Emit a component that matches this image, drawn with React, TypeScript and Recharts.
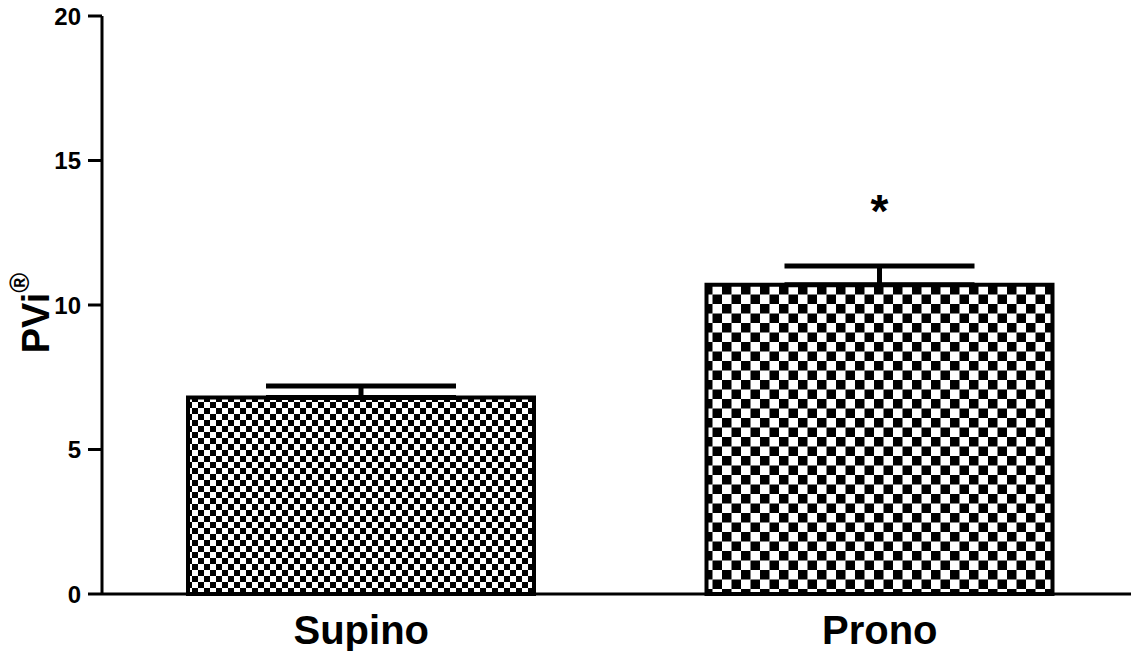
import { BarChart, Bar, XAxis, YAxis, ErrorBar, Cell, LabelList } from "recharts";

const groups = ["Supino", "Prono"];
const means = [6.8, 10.7];
const sem = [0.4, 0.65];
const marks = ["", "*"];
const yTicks = [0, 5, 10, 15, 20];

const patterns = ["url(#checkFine)", "url(#checkCoarse)"];

const data = groups.map((name, i) => ({
	name,
	value: means[i],
	err: [0, sem[i]],
	mark: marks[i],
}));

const font = "'Liberation Sans', Arial, sans-serif";

function YLabel({ viewBox }: any) {
	const cx = 36;
	const cy = viewBox.y + viewBox.height / 2 + 8;
	return (
		<text
			transform={`translate(${cx},${cy}) rotate(-90)`}
			textAnchor="middle"
			fontFamily={font}
			fontWeight="bold"
			fontSize={38}
			fill="#000"
			dy={13}
		>
			PVi
			<tspan fontSize={27} dy={-20}>®</tspan>
		</text>
	);
}

function Star(props: any) {
	const { x, width, y, value } = props;
	if (!value) return null;
	return (
		<text
			x={x + width / 2}
			y={y - 58}
			textAnchor="middle"
			fontFamily={font}
			fontWeight="bold"
			fontSize={46}
			fill="#000"
		>
			{value}
		</text>
	);
}

export default function App() {
	return (
		<div
			style={{
				position: "absolute",
				left: 0,
				top: 0,
				width: 1131,
				height: 651,
				overflow: "hidden",
				background: "#fff",
			}}
		>
			<BarChart
				width={1140}
				height={651}
				data={data}
				margin={{ top: 16, right: 1, bottom: 0, left: 0 }}
				barSize={346}
			>
				<defs>
					<pattern id="checkFine" width={12} height={12} patternUnits="userSpaceOnUse">
						<rect width={12} height={12} fill="#fff" />
						<rect width={6} height={6} fill="#000" />
						<rect x={6} y={6} width={6} height={6} fill="#000" />
					</pattern>
					<pattern id="checkCoarse" width={19} height={19} patternUnits="userSpaceOnUse">
						<rect width={19} height={19} fill="#fff" />
						<rect width={9.5} height={9.5} fill="#000" />
						<rect x={9.5} y={9.5} width={9.5} height={9.5} fill="#000" />
					</pattern>
				</defs>
				<XAxis
					dataKey="name"
					height={57}
					tickLine={false}
					axisLine={{ stroke: "#000", strokeWidth: 3 }}
					tick={{ fill: "#000", fontSize: 40, fontWeight: "bold", fontFamily: font }}
					tickMargin={16}
				/>
				<YAxis
					width={102}
					domain={[0, 20]}
					ticks={yTicks}
					interval={0}
					tickSize={14}
					tickMargin={7}
					axisLine={{ stroke: "#000", strokeWidth: 3 }}
					tickLine={{ stroke: "#000", strokeWidth: 3 }}
					tick={{ fill: "#000", fontSize: 24, fontWeight: "bold", fontFamily: font }}
					label={<YLabel />}
				/>
				<Bar dataKey="value" stroke="#000" strokeWidth={4} isAnimationActive={false}>
					{data.map((d, i) => (
						<Cell key={d.name} fill={patterns[i]} />
					))}
					<ErrorBar dataKey="err" width={95} stroke="#000" strokeWidth={5} direction="y" />
					<LabelList dataKey="mark" content={<Star />} />
				</Bar>
			</BarChart>
		</div>
	);
}
